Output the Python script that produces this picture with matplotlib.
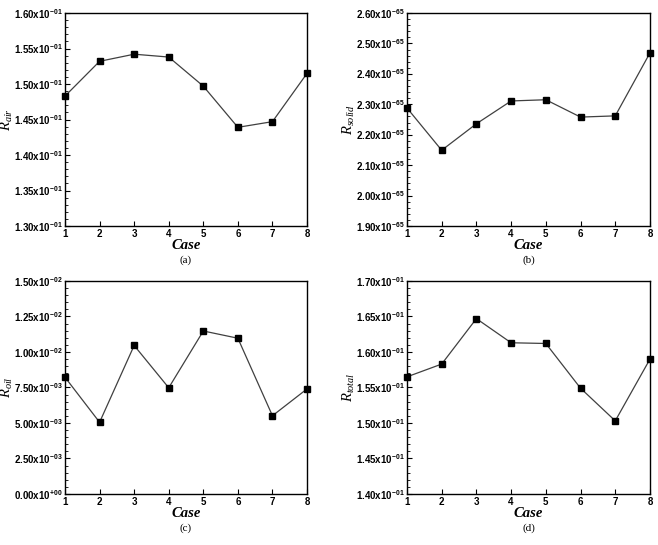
import numpy as np
import matplotlib
matplotlib.use("Agg")
import matplotlib.pyplot as plt
from matplotlib.ticker import FuncFormatter, AutoMinorLocator

plt.rcParams["mathtext.fontset"] = "custom"
plt.rcParams["mathtext.rm"] = "Liberation Sans:bold"
plt.rcParams["mathtext.bf"] = "Liberation Sans:bold"
plt.rcParams["mathtext.it"] = "Liberation Serif:italic"

cases = [1, 2, 3, 4, 5, 6, 7, 8]

r_air = [0.1483, 0.1532, 0.1542, 0.1538, 0.1497, 0.1439, 0.1447, 0.1515]
r_solid = [2.288e-65, 2.149e-65, 2.236e-65, 2.311e-65, 2.315e-65, 2.258e-65, 2.262e-65, 2.469e-65]
r_oil = [0.00822, 0.00505, 0.01046, 0.00748, 0.01148, 0.01097, 0.00551, 0.00740]
r_total = [0.1565, 0.1583, 0.1647, 0.1613, 0.1612, 0.1549, 0.1503, 0.1590]

panel_labels = ["(a)", "(b)", "(c)", "(d)"]
y_labels = ["$R_{air}$", "$R_{solid}$", "$R_{oil}$", "$R_{total}$"]
y_limits = [(0.130, 0.160), (1.90e-65, 2.60e-65), (0.0, 0.015), (0.140, 0.170)]
y_counts = [7, 8, 7, 7]


def sci_label(v, pos):
    if v == 0:
        return "0.00x10$^{+00}$"
    e = int(np.floor(np.log10(abs(v)) + 1e-9))
    m = v / 10.0 ** e
    if round(m, 2) >= 10:
        m /= 10
        e += 1
    return f"{m:.2f}x10$^{{{e:+03d}}}$"


fig = plt.figure(figsize=(6.58, 5.45), dpi=100)

boxes = [
    [0.0988, 0.5853, 0.3678, 0.3908],
    [0.6185, 0.5853, 0.3693, 0.3908],
    [0.0988, 0.0936, 0.3678, 0.3908],
    [0.6185, 0.0936, 0.3693, 0.3908],
]
series = [r_air, r_solid, r_oil, r_total]

for i in range(4):
    ax = fig.add_axes(boxes[i])
    ax.plot(cases, series[i], color="#404040", linewidth=0.9,
            marker="s", markersize=4.8, markerfacecolor="black",
            markeredgecolor="black", zorder=3, clip_on=False)

    lo, hi = y_limits[i]
    ax.set_xlim(1, 8)
    ax.set_ylim(lo, hi)
    ax.set_xticks(cases)
    ax.set_yticks(np.linspace(lo, hi, y_counts[i]))
    ax.yaxis.set_major_formatter(FuncFormatter(sci_label))
    ax.yaxis.set_minor_locator(AutoMinorLocator(5))

    ax.tick_params(axis="both", which="major", direction="in", length=3.5,
                   width=0.8, labelsize=7)
    ax.tick_params(axis="y", which="major", pad=1.5)
    ax.tick_params(axis="x", which="major", pad=2)
    ax.tick_params(axis="y", which="minor", direction="in", length=2, width=0.6)
    for lab in ax.get_xticklabels() + ax.get_yticklabels():
        lab.set_fontfamily("Liberation Sans")
        lab.set_fontweight("bold")

    for sp in ax.spines.values():
        sp.set_linewidth(1.0)

    ax.set_xlabel("Case", fontfamily="Liberation Serif", fontweight="bold",
                  fontstyle="italic", fontsize=10.5, labelpad=0)
    ax.set_ylabel(y_labels[i], fontsize=10.5)
    ax.yaxis.set_label_coords(-0.205, 0.5)

    x0, y0, w, h = boxes[i]
    fig.text(x0 + w / 2, y0 - 0.063, panel_labels[i],
             fontfamily="Liberation Serif", fontsize=8, ha="center", va="center")

fig.savefig("out.png", dpi=100)
